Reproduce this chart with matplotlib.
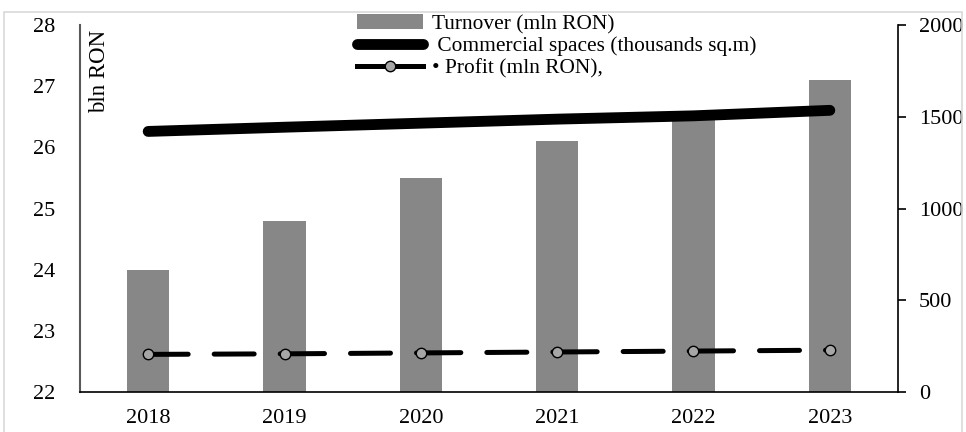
import matplotlib
matplotlib.use("Agg")
import matplotlib.pyplot as plt
from matplotlib.lines import Line2D
from matplotlib.patches import Patch, Rectangle

years = ["2018", "2019", "2020", "2021", "2022", "2023"]
turnover = [24.0, 24.8, 25.5, 26.1, 26.6, 27.1]          # bln RON (left axis)
commercial = [1420, 1443, 1465, 1487, 1505, 1535]        # thousands sq.m (right axis)
profit = [205, 208, 213, 218, 223, 228]                  # mln RON (right axis)

left_ticks = [22, 23, 24, 25, 26, 27, 28]
right_ticks = [0, 500, 1000, 1500, 2000]

plt.rcParams['font.family'] = ['Liberation Serif', 'DejaVu Serif']

fig = plt.figure(figsize=(9.66, 4.32), dpi=100)
fig.patches.append(Rectangle((4/966, -0.05), 958/966, 1 - 12/432 + 0.05,
                             transform=fig.transFigure, fill=False,
                             edgecolor='#d9d9d9', linewidth=1.2, zorder=0))

ax = fig.add_axes([80/966, 1 - 392/432, 818/966, 367/432])
x = list(range(len(years)))
ax.bar(x, turnover, width=0.31, color='#878787', zorder=2)
ax.set_ylim(22, 28)
ax.set_xlim(-0.5, len(years) - 0.5)
ax.set_yticks(left_ticks)
ax.set_xticks(x)
ax.set_xticklabels(years)
ax.tick_params(axis='y', length=0, labelsize=16, pad=18)
ax.tick_params(axis='x', length=0, labelsize=16, pad=12)
for s in ['top', 'right']:
    ax.spines[s].set_visible(False)
ax.spines['left'].set_color('#595959')
ax.spines['left'].set_linewidth(1.5)
ax.spines['bottom'].set_color('black')
ax.spines['bottom'].set_linewidth(1.2)

ax.text(20/818, 1 - 5/367, "bln RON", rotation=90, ha='center', va='top',
        transform=ax.transAxes, fontsize=16.5)

ax2 = ax.twinx()
ax2.set_ylim(0, 2000)
ax2.set_yticks(right_ticks)
ax2.plot(x, commercial, color='black', linewidth=7.8, solid_capstyle='round', zorder=3)
# profit: dashed segments, dash pattern restarting at each point (Excel style)
for i in range(len(x) - 1):
    ax2.plot(x[i:i + 2], profit[i:i + 2], color='black', linewidth=3.6,
             linestyle=(0, (8, 5.2)), dash_capstyle='round', zorder=4)
ax2.plot(x, profit, linestyle='none', marker='o', markersize=7.5,
         markerfacecolor='#a6a6a6', markeredgecolor='black', markeredgewidth=1.0, zorder=5)
for s in ['top', 'left', 'bottom']:
    ax2.spines[s].set_visible(False)
ax2.spines['right'].set_color('black')
ax2.spines['right'].set_linewidth(1.2)
ax2.tick_params(axis='y', direction='out', length=6, width=1.2, labelsize=16, pad=9)

handles = [
    Patch(facecolor='#878787', edgecolor='none'),
    Line2D([0], [0], color='black', linewidth=7.8, solid_capstyle='round'),
    Line2D([0], [0], color='black', linewidth=3.6, marker='o', markersize=7.5,
           markerfacecolor='#a6a6a6', markeredgecolor='black', markeredgewidth=1.0),
]
labels = ["Turnover (mln RON)", " Commercial spaces (thousands sq.m)", "• Profit (mln RON),"]
leg = ax2.legend(handles, labels, loc='upper left', bbox_to_anchor=(0.320, 1.07),
                 frameon=False, fontsize=15.4, handlelength=3.1, handletextpad=0.4,
                 labelspacing=0.1, borderpad=0.2, numpoints=1)

fig.savefig("out.png", dpi=100)
